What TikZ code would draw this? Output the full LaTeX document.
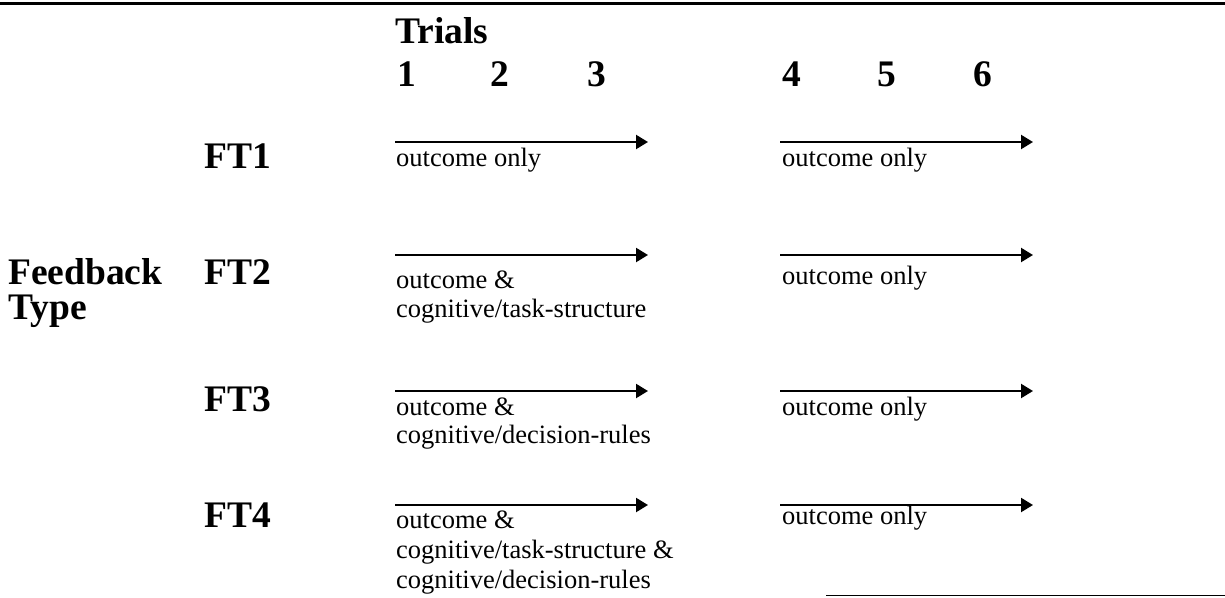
\documentclass[tikz,border=0pt]{standalone}
\usepackage{fontspec}
\setmainfont{Liberation Serif}
\usetikzlibrary{arrows.meta}
\tikzset{
  head/.style={font=\fontsize{37.5}{40}\selectfont\bfseries, anchor=base west, inner sep=0pt},
  lbl/.style={font=\fontsize{26.5}{30}\selectfont, anchor=base west, inner sep=0pt},
  flow/.style={line width=2.2pt, -{Triangle[length=12pt,width=14pt]}},
  rule/.style={line width=3pt}
}
\begin{document}
\begin{tikzpicture}[x=1pt,y=-1pt]
\useasboundingbox (0,0) rectangle (1225,597);
% rules
\coordinate (tl) at (0,3);
\coordinate (tr) at (1225,3);
\draw[rule] (tl) -- (tr);
\coordinate (bl) at (826,595.5);
\coordinate (br) at (1225,595.5);
\draw[line width=1.8pt] (bl) -- (br);
% header
\node[head] (trials) at (395,43) {Trials};
\node[head] (n1) at (397,86) {1};
\node[head] (n2) at (490,86) {2};
\node[head] (n3) at (587,86) {3};
\node[head] (n4) at (782,86) {4};
\node[head] (n5) at (877,86) {5};
\node[head] (n6) at (973,86) {6};
% left labels
\node[head] (fb) at (8,284) {Feedback};
\node[head] (ty) at (8,319) {Type};
\node[head] (ft1) at (204,168) {FT1};
\node[head] (ft2) at (204,284) {FT2};
\node[head] (ft3) at (204,411) {FT3};
\node[head] (ft4) at (204,527) {FT4};
% arrows
\foreach \r/\y in {1/142,2/255,3/391,4/505}{
  \coordinate (l\r s) at (395,\y);
  \coordinate (l\r e) at (648,\y);
  \coordinate (r\r s) at (780,\y);
  \coordinate (r\r e) at (1033,\y);
  \draw[flow] (l\r s) -- (l\r e);
  \draw[flow] (r\r s) -- (r\r e);
}
% FT1 texts
\node[lbl] (t1a) at (396,166) {outcome only};
\node[lbl] (t1r) at (782,166) {outcome only};
% FT2 texts
\node[lbl] (t2a) at (396,288) {outcome \&};
\node[lbl] (t2b) at (396,317) {cognitive/task-structure};
\node[lbl] (t2r) at (782,284) {outcome only};
% FT3 texts
\node[lbl] (t3a) at (396,415) {outcome \&};
\node[lbl] (t3b) at (396,443) {cognitive/decision-rules};
\node[lbl] (t3r) at (782,415) {outcome only};
% FT4 texts
\node[lbl] (t4a) at (396,528) {outcome \&};
\node[lbl] (t4b) at (396,558) {cognitive/task-structure \&};
\node[lbl] (t4c) at (396,588) {cognitive/decision-rules};
\node[lbl] (t4r) at (782,524) {outcome only};
\end{tikzpicture}
\end{document}
